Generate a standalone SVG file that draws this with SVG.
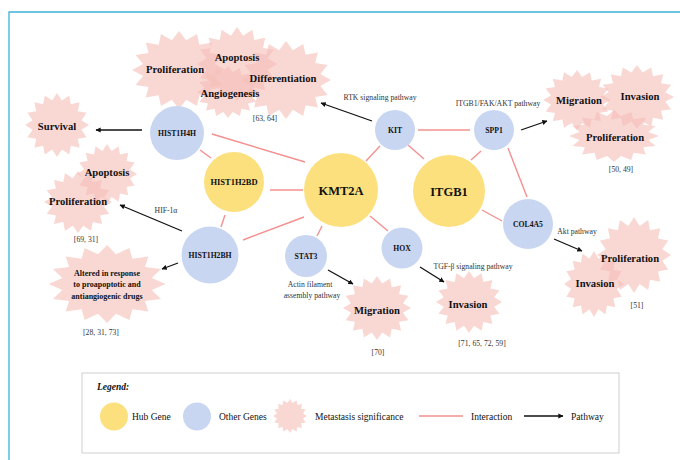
<svg xmlns="http://www.w3.org/2000/svg" xmlns:xlink="http://www.w3.org/1999/xlink" width="680" height="460" viewBox="0 0 680 460">
<style>
text{font-family:"Liberation Serif","Times New Roman",serif;fill:#111}
.hub{fill:#fde07e}
.oth{fill:#c9d6f2}
.star{fill:#f5beb8;opacity:0.6}
.gl{font-weight:bold;font-size:7.7px;text-anchor:middle}
.big{font-weight:bold;font-size:12.5px;text-anchor:middle}
.sl{font-weight:bold;font-size:10.6px;text-anchor:middle}
.al{font-weight:bold;font-size:8px;text-anchor:middle}
.sm{font-size:7.7px;fill:#333;text-anchor:middle}
.lg{font-size:9.5px}
.int{stroke:#f49090;stroke-width:1.4;fill:none}
.pw{stroke:#111;stroke-width:1.3;fill:none;marker-end:url(#ah)}
</style>
<defs>
<marker id="ah" viewBox="0 0 10 10" refX="9" refY="5" markerWidth="4" markerHeight="4" orient="auto" markerUnits="strokeWidth">
<path d="M0,0 L10,5 L0,10 z" fill="#111"/>
</marker>
<path id="star" d="M50,0 L38.25,7.61 L46.19,19.13 L32.43,21.67 L35.36,35.36 L21.67,32.43 L19.13,46.19 L7.61,38.25 L0,50 L-7.61,38.25 L-19.13,46.19 L-21.67,32.43 L-35.36,35.36 L-32.43,21.67 L-46.19,19.13 L-38.25,7.61 L-50,0 L-38.25,-7.61 L-46.19,-19.13 L-32.43,-21.67 L-35.36,-35.36 L-21.67,-32.43 L-19.13,-46.19 L-7.61,-38.25 L0,-50 L7.61,-38.25 L19.13,-46.19 L21.67,-32.43 L35.36,-35.36 L32.43,-21.67 L46.19,-19.13 L38.25,-7.61 Z"/>
</defs>
<rect width="680" height="460" fill="#fff"/>
<path d="M9,460 L9,12 L680,12" fill="none" stroke="#3fb3d9" stroke-width="1.3"/>

<g id="connectors">
<line class="int" x1="212" y1="134" x2="305" y2="162"/>
<line class="int" x1="200" y1="150" x2="211" y2="158"/>
<line class="int" x1="270" y1="190" x2="303" y2="190"/>
<line class="int" x1="225" y1="215" x2="221" y2="227"/>
<line class="int" x1="243" y1="240" x2="304" y2="217"/>
<line class="int" x1="322" y1="226" x2="317" y2="236"/>
<line class="int" x1="370" y1="216" x2="388" y2="231"/>
<line class="int" x1="366" y1="161" x2="380" y2="146"/>
<line class="int" x1="408" y1="145" x2="424" y2="159"/>
<line class="int" x1="418" y1="130" x2="470" y2="130"/>
<line class="int" x1="471" y1="160" x2="481" y2="151"/>
<line class="int" x1="508" y1="148" x2="527" y2="197"/>
<line class="int" x1="482" y1="210" x2="502" y2="221"/>
<line class="pw" x1="142" y1="130" x2="96" y2="130"/>
<line class="pw" x1="372" y1="121" x2="321" y2="103"/>
<line class="pw" x1="521" y1="130" x2="547" y2="121"/>
<line class="pw" x1="182" y1="231" x2="120" y2="205"/>
<line class="pw" x1="178" y1="263" x2="162" y2="269"/>
<line class="pw" x1="328" y1="270" x2="353" y2="284"/>
<line class="pw" x1="420" y1="267" x2="444" y2="282"/>
<line class="pw" x1="554" y1="239" x2="582" y2="251"/>
</g>

<g id="sig-top">
<use href="#star" class="star" transform="translate(237 64) scale(0.8 0.74)"/>
<use href="#star" class="star" transform="translate(179 70) scale(0.94 0.78)"/>
<use href="#star" class="star" transform="translate(286 80) scale(0.9 0.78)"/>
<use href="#star" class="star" transform="translate(228 92) scale(0.62 0.52)"/>
<text class="sl" x="175" y="73">Proliferation</text>
<text class="sl" x="237" y="61">Apoptosis</text>
<text class="sl" x="283" y="82">Differentiation</text>
<text class="sl" x="230" y="97">Angiogenesis</text>
<text class="sm" x="265" y="121">[63, 64]</text>
</g>
<g id="sig-survival">
<use href="#star" class="star" transform="translate(57 125) scale(0.64)"/>
<text class="sl" x="57" y="130">Survival</text>
</g>
<g id="sig-left">
<use href="#star" class="star" transform="translate(107 174) scale(0.6)"/>
<use href="#star" class="star" transform="translate(78 202) scale(0.68 0.62)"/>
<text class="sl" x="107" y="176">Apoptosis</text>
<text class="sl" x="78" y="205">Proliferation</text>
<text class="sm" x="86" y="242">[69, 31]</text>
</g>
<g id="sig-altered">
<use href="#star" class="star" transform="translate(107 284) scale(1.17 0.78)"/>
<text class="al" x="107" y="276">Altered in response</text>
<text class="al" x="107" y="287">to proapoptotic and</text>
<text class="al" x="107" y="299">antiangiogenic drugs</text>
<text class="sm" x="101" y="335">[28, 31, 73]</text>
</g>
<g id="sig-migration">
<use href="#star" class="star" transform="translate(377 308) scale(0.68 0.64)"/>
<text class="sl" x="377" y="314">Migration</text>
<text class="sm" x="378" y="355">[70]</text>
</g>
<g id="sig-invasion">
<use href="#star" class="star" transform="translate(469 302) scale(0.66 0.62)"/>
<text class="sl" x="468" y="308">Invasion</text>
<text class="sm" x="482" y="346">[71, 65, 72, 59]</text>
</g>
<g id="sig-col4a5">
<use href="#star" class="star" transform="translate(634 255) scale(0.74 0.76)"/>
<use href="#star" class="star" transform="translate(594 284) scale(0.6 0.66)"/>
<text class="sl" x="630" y="262">Proliferation</text>
<text class="sl" x="595" y="287">Invasion</text>
<text class="sm" x="637" y="308">[51]</text>
</g>
<g id="sig-spp1">
<use href="#star" class="star" transform="translate(577 100) scale(0.68 0.6)"/>
<use href="#star" class="star" transform="translate(637 97) scale(0.74 0.64)"/>
<use href="#star" class="star" transform="translate(614 136) scale(0.9 0.52)"/>
<text class="sl" x="579" y="104">Migration</text>
<text class="sl" x="640" y="100">Invasion</text>
<text class="sl" x="615" y="141">Proliferation</text>
<text class="sm" x="621" y="172">[50, 49]</text>
</g>

<g id="labels">
<text class="sm" x="380" y="100">RTK signaling pathway</text>
<text class="sm" x="498" y="106">ITGB1/FAK/AKT pathway</text>
<text class="sm" x="166" y="213">HIF-1α</text>
<text class="sm" x="310" y="287">Actin filament</text>
<text class="sm" x="312" y="298">assembly pathway</text>
<text class="sm" x="473" y="269">TGF-β signaling pathway</text>
<text class="sm" x="577" y="234">Akt pathway</text>
</g>

<g id="KMT2A"><circle class="hub" cx="341" cy="190" r="37"/><text class="big" x="341" y="194.5">KMT2A</text></g>
<g id="ITGB1"><circle class="hub" cx="449" cy="191" r="36"/><text class="big" x="449" y="195.5">ITGB1</text></g>
<g id="HIST1H2BD"><circle class="hub" cx="234" cy="182" r="30"/><text class="gl" x="234" y="185" style="font-size:8.5px">HIST1H2BD</text></g>
<g id="HIST1H4H"><circle class="oth" cx="177" cy="133" r="27"/><text class="gl" x="177" y="136">HIST1H4H</text></g>
<g id="HIST1H2BH"><circle class="oth" cx="210" cy="255" r="28.5"/><text class="gl" x="210" y="258">HIST1H2BH</text></g>
<g id="STAT3"><circle class="oth" cx="306" cy="256" r="21"/><text class="gl" x="306" y="259">STAT3</text></g>
<g id="HOX"><circle class="oth" cx="402" cy="248" r="20.5"/><text class="gl" x="402" y="251">HOX</text></g>
<g id="KIT"><circle class="oth" cx="395" cy="130" r="20"/><text class="gl" x="395" y="133">KIT</text></g>
<g id="SPP1"><circle class="oth" cx="494" cy="130" r="20"/><text class="gl" x="494" y="133">SPP1</text></g>
<g id="COL4A5"><circle class="oth" cx="528" cy="224" r="25"/><text class="gl" x="528" y="227">COL4A5</text></g>

<g id="legend">
<rect x="82" y="373" width="537" height="80" fill="#fff" stroke="#cfcfcf" stroke-width="1"/>
<text x="97" y="390" style="font-weight:bold;font-style:italic;font-size:9.5px">Legend:</text>
<circle class="hub" cx="114" cy="416.5" r="14"/>
<text class="lg" x="132" y="420">Hub Gene</text>
<circle class="oth" cx="197" cy="416.5" r="14"/>
<text class="lg" x="219" y="420">Other Genes</text>
<use href="#star" class="star" transform="translate(290 416) scale(0.34)"/>
<text class="lg" x="315" y="420">Metastasis significance</text>
<line class="int" x1="419" y1="416" x2="463" y2="416"/>
<text class="lg" x="471" y="420">Interaction</text>
<line class="pw" x1="524" y1="416" x2="563" y2="416"/>
<text class="lg" x="571" y="420">Pathway</text>
</g>
</svg>
